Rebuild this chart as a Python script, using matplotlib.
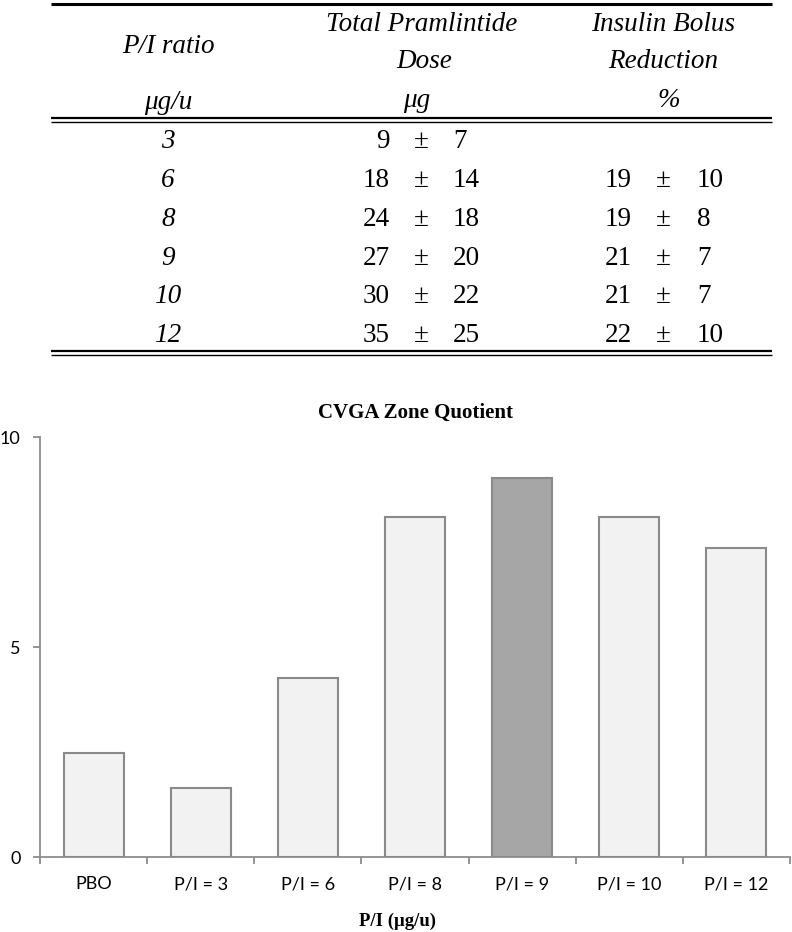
import numpy as np
import matplotlib
matplotlib.use("Agg")
import matplotlib.pyplot as plt
from matplotlib.lines import Line2D


# =========================
# 1. 数据
# =========================

# 表格：P/I 比值与剂量
pi_ratio = ["3", "6", "8", "9", "10", "12"]
dose_mean = [9, 18, 24, 27, 30, 35]
dose_sd = [7, 14, 18, 20, 22, 25]
bolus_mean = [None, 19, 19, 21, 21, 22]
bolus_sd = [None, 10, 8, 7, 7, 10]

# 柱状图：CVGA Zone Quotient
categories = ["PBO", "P/I = 3", "P/I = 6", "P/I = 8", "P/I = 9", "P/I = 10", "P/I = 12"]
cvga_values = [2.48, 1.64, 4.26, 8.1, 9.02, 8.1, 7.36]
highlight_idx = 4
y_ticks = [0, 5, 10]


# =========================
# 2. 画布
# =========================

W, H = 792, 932
fig = plt.figure(figsize=(W / 100, H / 100), dpi=100)

SERIF = ["Liberation Serif", "DejaVu Serif"]
SANS = ["Lato", "DejaVu Sans"]


# =========================
# 3. 表格（像素坐标）
# =========================

tab = fig.add_axes([0, 0, 1, 1])
tab.set_xlim(0, W)
tab.set_ylim(H, 0)
tab.axis("off")
tab.patch.set_visible(False)

x_left, x_right = 51, 772


def hline(y, lw):
    tab.add_line(Line2D([x_left, x_right], [y, y], color="black", lw=lw,
                        solid_capstyle="butt"))


hline(3.5, 2.2)
hline(118.3, 1.6)
hline(121.8, 1.0)
hline(350.5, 1.6)
hline(354.8, 1.0)

fs = 19.5
head = dict(fontsize=fs, style="italic", family=SERIF, ha="center", va="baseline")

tab.text(168, 53, "P/I ratio", **head)
tab.text(168, 109, "μg/u", **head)

tab.text(422, 31, "Total Pramlintide", **head)
tab.text(424, 68, "Dose", **head)
tab.text(417, 107, "μg", **head)

tab.text(663, 31, "Insulin Bolus", **head)
tab.text(663, 68, "Reduction", **head)
tab.text(669, 107, "%", **head)

num = dict(fontsize=fs, family=SERIF, va="baseline")

for i, r in enumerate(pi_ratio):
    yb = 148.5 + i * 38.7
    tab.text(168, yb, r, style="italic", ha="center", **num)

    tab.text(390, yb, str(dose_mean[i]), ha="right", **num)
    tab.text(421, yb, "±", ha="center", **num)
    tab.text(453, yb, str(dose_sd[i]), ha="left", **num)

    if bolus_mean[i] is not None:
        tab.text(632, yb, str(bolus_mean[i]), ha="right", **num)
        tab.text(663, yb, "±", ha="center", **num)
        tab.text(697, yb, str(bolus_sd[i]), ha="left", **num)


# =========================
# 4. 柱状图
# =========================

ax_l, ax_r = 40, 790
ax_t, ax_b = 437, 857
ax = fig.add_axes([ax_l / W, 1 - ax_b / H, (ax_r - ax_l) / W, (ax_b - ax_t) / H])

x = np.arange(len(categories))
colors = ["#f2f2f2"] * len(categories)
colors[highlight_idx] = "#a6a6a6"

ax.bar(x, cvga_values, width=0.56, color=colors, edgecolor="#8a8a8a",
       linewidth=1.5, zorder=3)

ax.set_xlim(-0.5, len(categories) - 0.5)
ax.set_ylim(0, 10)

for s in ["top", "right"]:
    ax.spines[s].set_visible(False)
for s in ["left", "bottom"]:
    ax.spines[s].set_color("#8c8c8c")
    ax.spines[s].set_linewidth(1.3)

ax.set_yticks(y_ticks)
ax.set_yticklabels([str(v) for v in y_ticks], fontsize=13, family=SANS)
ax.tick_params(axis="y", direction="out", length=5, width=1.3, color="#8c8c8c", pad=9)

ax.set_xticks(x)
ax.set_xticklabels(categories, fontsize=13, family=SANS)
ax.set_xticks(np.arange(len(categories) + 1) - 0.5, minor=True)
ax.tick_params(axis="x", which="major", length=0, pad=14)
ax.tick_params(axis="x", which="minor", direction="out", length=5, width=1.3,
               color="#8c8c8c")

fig.text(415 / W, 1 - 413 / H, "CVGA Zone Quotient", fontsize=15, fontweight="bold",
         family=SERIF, ha="center", va="center")
fig.text(398 / W, 1 - 921 / H, "P/I (μg/u)", fontsize=13.5, fontweight="bold",
         family=SERIF, ha="center", va="center")

fig.savefig("out.png", dpi=100)
